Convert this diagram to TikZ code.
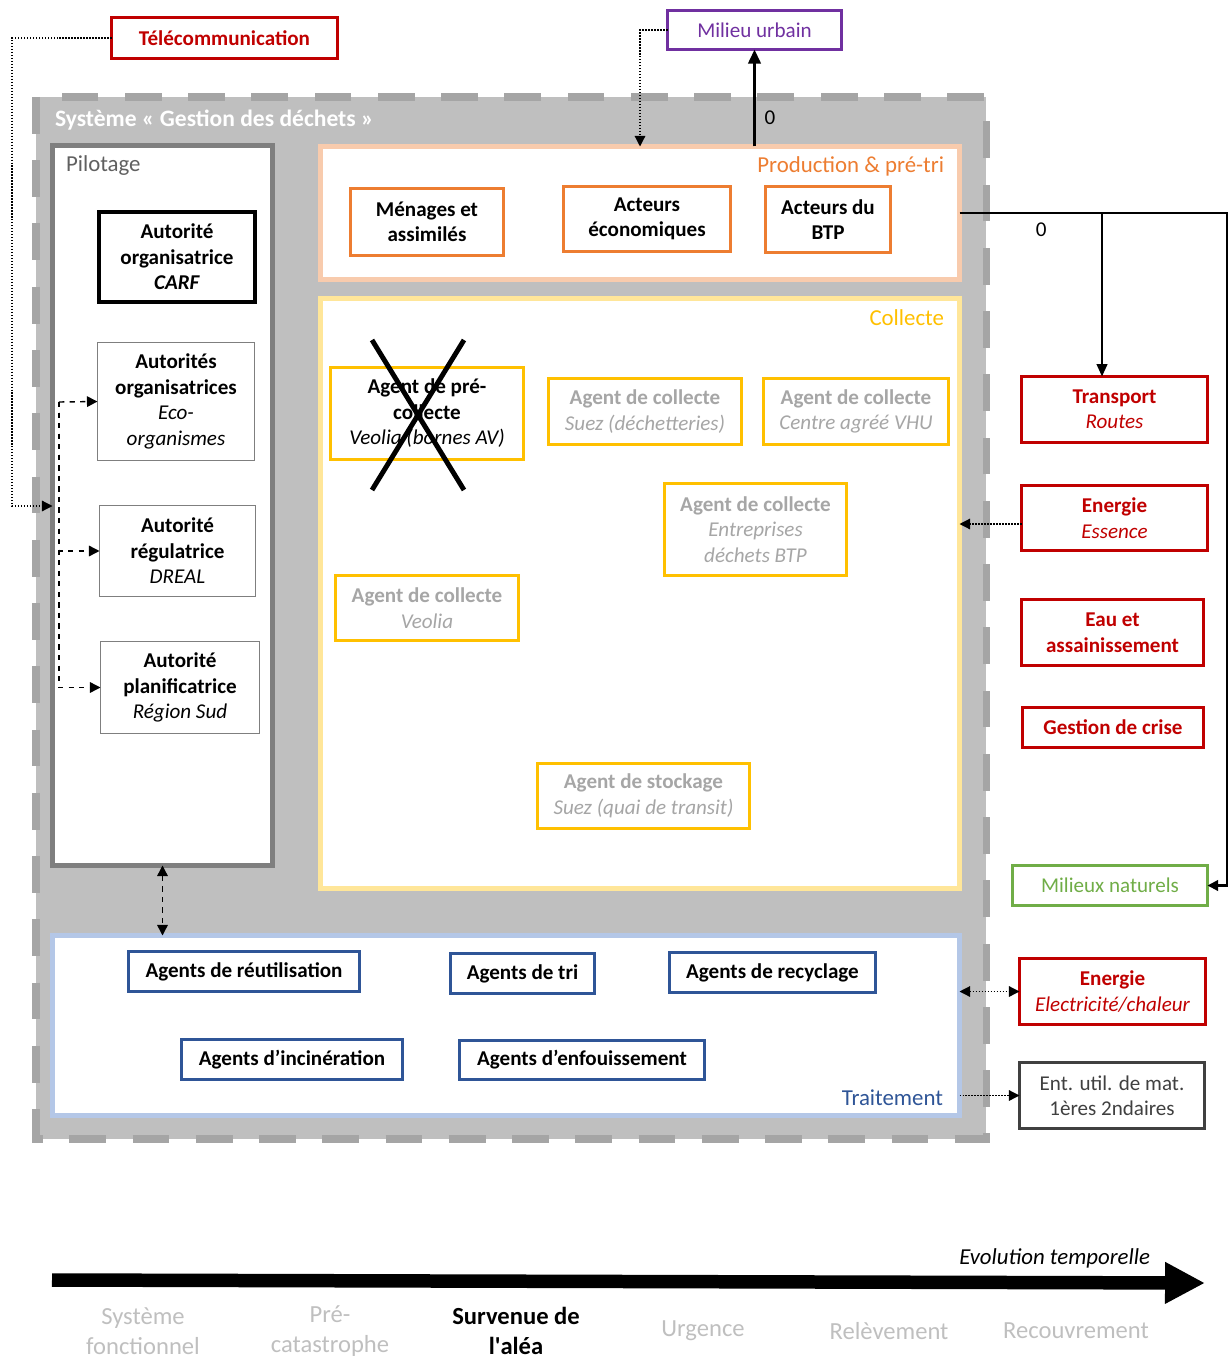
\documentclass[tikz,border=0pt]{standalone}
\usepackage{fontspec}
\setmainfont{Carlito}
\usetikzlibrary{arrows.meta}

\definecolor{fondsys}{HTML}{BFBFBF}
\definecolor{traitsys}{HTML}{A5A5A5}
\definecolor{grispil}{HTML}{7F7F7F}
\definecolor{gristitre}{HTML}{606060}
\definecolor{gristexte}{HTML}{A6A6A6}
\definecolor{grisphase}{HTML}{BFBFBF}
\definecolor{grisfonce}{HTML}{404040}
\definecolor{crouge}{HTML}{C00000}
\definecolor{cviolet}{HTML}{7030A0}
\definecolor{corange}{HTML}{ED7D31}
\definecolor{corangeclair}{HTML}{F8CBAD}
\definecolor{cjaune}{HTML}{FFC000}
\definecolor{cjauneclair}{HTML}{FFE699}
\definecolor{cbleu}{HTML}{2F5597}
\definecolor{cbleuclair}{HTML}{B4C7E7}
\definecolor{cvert}{HTML}{70AD47}

\newcommand{\soustitre}[1]{{\mdseries\itshape #1}}

\begin{document}
\begin{tikzpicture}[x=0.02cm, y=-0.02cm,
	every node/.style={inner sep=0pt, outer sep=0pt, align=center, font=\fontsize{12}{14.5}\selectfont},
	taille/.style 2 args={minimum width=#1*0.02cm, minimum height=#2*0.02cm},
	gras/.style={font=\fontsize{12}{14.5}\selectfont\bfseries},
	titre/.style={font=\fontsize{13}{16}\selectfont},
	conteneur/.style={fill=white, line width=2.8pt},
	autorite/.style={gras, draw=grispil, line width=1pt},
	acteur/.style={gras, draw=corange, line width=1.2pt},
	agent/.style={gras, draw=cjaune, line width=1.2pt, text=gristexte},
	traiteur/.style={gras, draw=cbleu, line width=1.2pt},
	reseau/.style={gras, draw=crouge, line width=1.2pt, text=crouge},
	phase/.style={font=\fontsize{14}{17}\selectfont, text=grisphase},
	pointe/.style={-{Triangle[length=6pt,width=6pt]}},
	pointes/.style={{Triangle[length=6pt,width=6pt]}-{Triangle[length=6pt,width=6pt]}},
	pointille/.style={densely dotted, line width=0.7pt},
	tiret/.style={dashed, line width=0.8pt}]
	\useasboundingbox (0,0) rectangle (1228,1358);

	% systeme gestion des dechets
	\node[taille={950}{1042}, fill=fondsys] (sys) at (511,618) {};
	\draw[traitsys, line width=4pt, dash pattern=on 21pt off 15pt] (sys.north west) rectangle (sys.south east);
	\node[anchor=west, text=white, font=\fontsize{13.4}{16}\selectfont\bfseries] (tsys) at (55,120) {Système « Gestion des déchets »};

	% conteneurs
	\node[conteneur, taille={220}{720}, draw=grispil] (pil) at (162.5,505.5) {};
	\node[titre, anchor=west, text=gristitre] (tpil) at (66,166) {Pilotage};
	\node[conteneur, taille={639}{133}, draw=corangeclair] (prod) at (640,213) {};
	\node[titre, anchor=east, text=corange] (tprod) at (944,166) {Production \& pré-tri};
	\node[conteneur, taille={639}{590}, draw=cjauneclair] (coll) at (640,593.5) {};
	\node[titre, anchor=east, text=cjaune] (tcoll) at (944,318) {Collecte};
	\node[conteneur, taille={907}{180}, draw=cbleuclair] (trait) at (506,1025.5) {};
	\node[titre, anchor=east, text=cbleu] (ttrait) at (943,1098) {Traitement};

	% pilotage
	\node[autorite, taille={156}{90}, draw=black, line width=2.3pt] (carf) at (177,257) {Autorité\\organisatrice\\\textit{CARF}};
	\node[autorite, taille={157}{118}] (eco) at (176,401.5) {Autorités\\organisatrices\\\soustitre{Eco-}\\\soustitre{organismes}};
	\node[autorite, taille={156}{91}] (dreal) at (177.5,551) {Autorité\\régulatrice\\\soustitre{DREAL}};
	\node[autorite, taille={159}{92}] (region) at (180,687.5) {Autorité\\planificatrice\\\soustitre{Région Sud}};
	\coordinate (pdash) at (59,402);
	\draw[tiret, pointe] (pdash) -- (eco.west);
	\draw[tiret, pointe] (pdash) |- (dreal.west);
	\draw[tiret, pointe] (pdash) |- (region.west);

	% production
	\node[acteur, taille={153}{67}] (menages) at (427,222) {Ménages et\\assimilés};
	\node[acteur, taille={167}{65}] (acteco) at (647,219) {Acteurs\\économiques};
	\node[acteur, taille={125}{66}] (actbtp) at (828,219.5) {Acteurs du\\BTP};

	% collecte
	\node[agent, taille={193}{92}, text=black] (precoll) at (427,413.5) {Agent de pré-\\collecte\\\soustitre{Veolia (bornes AV)}};
	\draw[line width=2.8pt] (372,340) -- (464,490) (464,340) -- (372,490);
	\node[agent, taille={193}{66}] (suez) at (645,411.5) {Agent de collecte\\\soustitre{Suez (déchetteries)}};
	\node[agent, taille={185}{66}] (vhu) at (856,411.5) {Agent de collecte\\\soustitre{Centre agréé VHU}};
	\node[agent, taille={182}{92}] (collbtp) at (755.5,529.5) {Agent de collecte\\\soustitre{Entreprises}\\\soustitre{déchets BTP}};
	\node[agent, taille={183}{65}] (veolia) at (427,608) {Agent de collecte\\\soustitre{Veolia}};
	\node[agent, taille={212}{65}] (stock) at (643.5,796) {Agent de stockage\\\soustitre{Suez (quai de transit)}};

	% traitement
	\node[traiteur, taille={231}{40}] (reutil) at (244,971.5) {Agents de réutilisation};
	\node[traiteur, taille={144}{40}] (tri) at (522.5,973.5) {Agents de tri};
	\node[traiteur, taille={206}{40}] (recycl) at (772.5,972.5) {Agents de recyclage};
	\node[traiteur, taille={221}{40}] (incin) at (292,1059.5) {Agents d’incinération};
	\node[traiteur, taille={245}{39}] (enfou) at (582,1060) {Agents d’enfouissement};
	\draw[tiret, pointes] (pil.south) -- (trait.north -| pil.south);

	% environnement
	\node[reseau, taille={226}{41}] (telecom) at (224.5,38) {Télécommunication};
	\node[taille={174}{39}, draw=cviolet, line width=1.2pt, text=cviolet] (urbain) at (754.5,30) {Milieu urbain};
	\node[reseau, taille={186}{66}] (transport) at (1114.5,409.5) {Transport\\\soustitre{Routes}};
	\node[reseau, taille={186}{65}] (essence) at (1114.5,518) {Energie\\\soustitre{Essence}};
	\node[reseau, taille={182}{66}] (eau) at (1112.5,632.5) {Eau et\\assainissement};
	\node[reseau, taille={181}{40}] (crise) at (1113,727.5) {Gestion de crise};
	\node[taille={195}{40}, draw=cvert, line width=1.2pt, text=cvert] (naturels) at (1110,885.5) {Milieux naturels};
	\node[reseau, taille={186}{66}] (elec) at (1112.5,991.5) {Energie\\\soustitre{Electricité/chaleur}};
	\node[taille={185}{66}, draw=grisfonce, line width=1.2pt, text=grisfonce] (entutil) at (1112,1095.5) {Ent. util. de mat.\\1ères 2ndaires};

	% liens
	\draw[pointille, pointe] (telecom.west) -| (12,506) -- (pil.west |- 0,506);
	\draw[pointille, pointe] (urbain.west) -| (prod.north);
	\draw[line width=1.7pt, -{Triangle[length=8pt,width=7pt]}] (urbain.south |- prod.north) -- node[pos=0.294, right=0.2cm] (zerourb) {0} (urbain.south);
	\coordinate (coinprod) at (1227,213);
	\coordinate (branche) at (1102,213);
	\draw[line width=1.2pt, pointe] (prod.east) -- node[pos=0.305, below=0.2cm] (zeroprod) {0} (coinprod) |- (naturels.east);
	\draw[line width=1.2pt, -{Triangle[length=7pt,width=6pt]}] (branche) -- (branche |- transport.north);
	\coordinate (sortess) at ([yshift=-0.12cm]essence.west);
	\draw[pointille, pointe] (sortess) -- (coll.east |- sortess);
	\draw[pointille, pointes] (trait.east |- elec.west) -- (elec.west);
	\draw[pointille, pointe] (trait.east |- entutil.west) -- (entutil.west);

	% evolution temporelle
	\draw[line width=0.27cm, -{Triangle[length=0.8cm,width=0.78cm]}] (52,1280) -- (1205,1283);
	\node[anchor=east, font=\fontsize{13}{15}\selectfont\itshape] (evol) at (1150,1258) {Evolution temporelle};
	\node[phase] (fonct) at (143,1331) {Système\\fonctionnel};
	\node[phase] (precat) at (330,1331) {Pré-\\catastrophe};
	\node[phase, text=black, font=\fontsize{14}{17}\selectfont\bfseries] (alea) at (516,1331) {Survenue de\\l\textquotesingle aléa};
	\node[phase] (urgence) at (703,1331) {Urgence};
	\node[phase] (relev) at (889,1331) {Relèvement};
	\node[phase] (recouv) at (1076,1331) {Recouvrement};
\end{tikzpicture}
\end{document}
